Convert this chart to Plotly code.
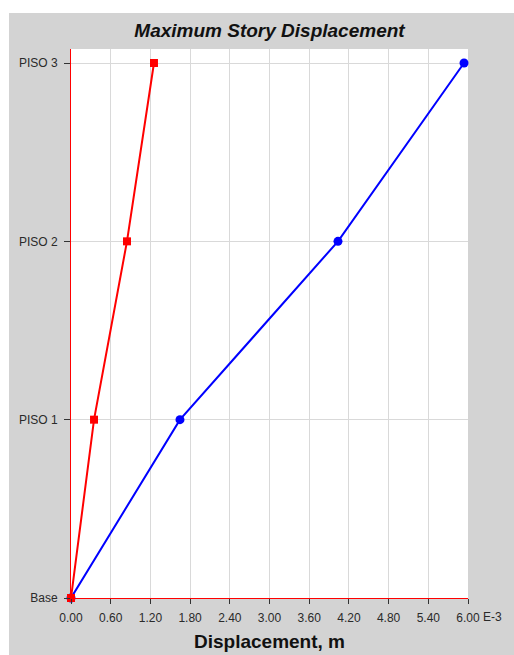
import plotly.graph_objects as go

# Story levels (bottom to top) and their plotting positions
stories = ["Base", "PISO 1", "PISO 2", "PISO 3"]
story_pos = [0, 1, 2, 3]

# Maximum story displacement, m
disp_x = [0.0, 0.000348, 0.000846, 0.001254]   # red series
disp_y = [0.0, 0.001647, 0.004035, 0.005940]   # blue series

# X-axis tick values (m) and their labels (in E-3 units)
x_ticks = [0.0, 0.0006, 0.0012, 0.0018, 0.0024, 0.0030, 0.0036, 0.0042, 0.0048, 0.0054, 0.0060]
x_ticktext = ["0.00", "0.60", "1.20", "1.80", "2.40", "3.00", "3.60", "4.20", "4.80", "5.40", "6.00"]

W, H = 514, 655
L, R, T, B = 71, 46, 49, 57
pw, ph = W - L - R, H - T - B

FONT = "Liberation Sans, Arial, sans-serif"

fig = go.Figure()
# blue series first so the red markers sit on top where they meet at the base
fig.add_trace(go.Scatter(
    x=disp_y, y=story_pos, mode="lines+markers",
    line=dict(color="#0000ff", width=2),
    marker=dict(symbol="circle", size=9, color="#0000ff"),
    cliponaxis=False, showlegend=False,
))
fig.add_trace(go.Scatter(
    x=disp_x, y=story_pos, mode="lines+markers",
    line=dict(color="#ff0000", width=2),
    marker=dict(symbol="square", size=8, color="#ff0000"),
    cliponaxis=False, showlegend=False,
))

# grey panel behind the chart and white plotting area
fig.add_shape(type="rect", xref="paper", yref="paper", layer="below",
              x0=(9 - L) / pw, x1=(W - L) / pw,
              y0=-(H - (T + ph)) / ph, y1=(T + ph - 13) / ph,
              fillcolor="#d3d3d3", line_width=0)
fig.add_shape(type="rect", xref="paper", yref="paper", layer="below",
              x0=0, x1=1, y0=0, y1=1, fillcolor="white", line_width=0)

fig.add_annotation(text="E-3", x=x_ticks[-1], xref="x", xanchor="left", xshift=13,
                   y=-(617 - (T + ph)) / ph, yref="paper", yanchor="middle",
                   showarrow=False, font=dict(family=FONT, size=12, color="#2a2a2a"))

fig.update_layout(
    width=W, height=H,
    margin=dict(l=L, r=R, t=T, b=B),
    paper_bgcolor="white", plot_bgcolor="rgba(0,0,0,0)",
    font=dict(family=FONT, size=12, color="#2a2a2a"),
    title=dict(text="<b><i>Maximum Story Displacement</i></b>",
               x=(L + pw / 2) / W, xanchor="center", y=1 - 30 / H, yanchor="middle",
               font=dict(family=FONT, size=19, color="#111111")),
    xaxis=dict(
        range=[0, 0.006], tickvals=x_ticks, ticktext=x_ticktext,
        showgrid=True, gridcolor="#d9d9d9", gridwidth=1,
        showline=True, linecolor="#ff0000", linewidth=1,
        ticks="outside", ticklen=5, tickcolor="#333333",
        ticklabelstandoff=4, automargin=False,
        zeroline=False, fixedrange=True,
        title=dict(text="<b>Displacement, m</b>", standoff=10,
                   font=dict(family=FONT, size=19, color="#111111")),
    ),
    yaxis=dict(
        range=[0, 3 + 14 / 178.3], tickvals=story_pos, ticktext=stories,
        showgrid=True, gridcolor="#d9d9d9", gridwidth=1,
        showline=True, linecolor="#ff0000", linewidth=1,
        ticks="outside", ticklen=6, tickcolor="#333333",
        ticklabelstandoff=4, automargin=False,
        zeroline=False, fixedrange=True,
    ),
)

fig.write_html("out.html")
